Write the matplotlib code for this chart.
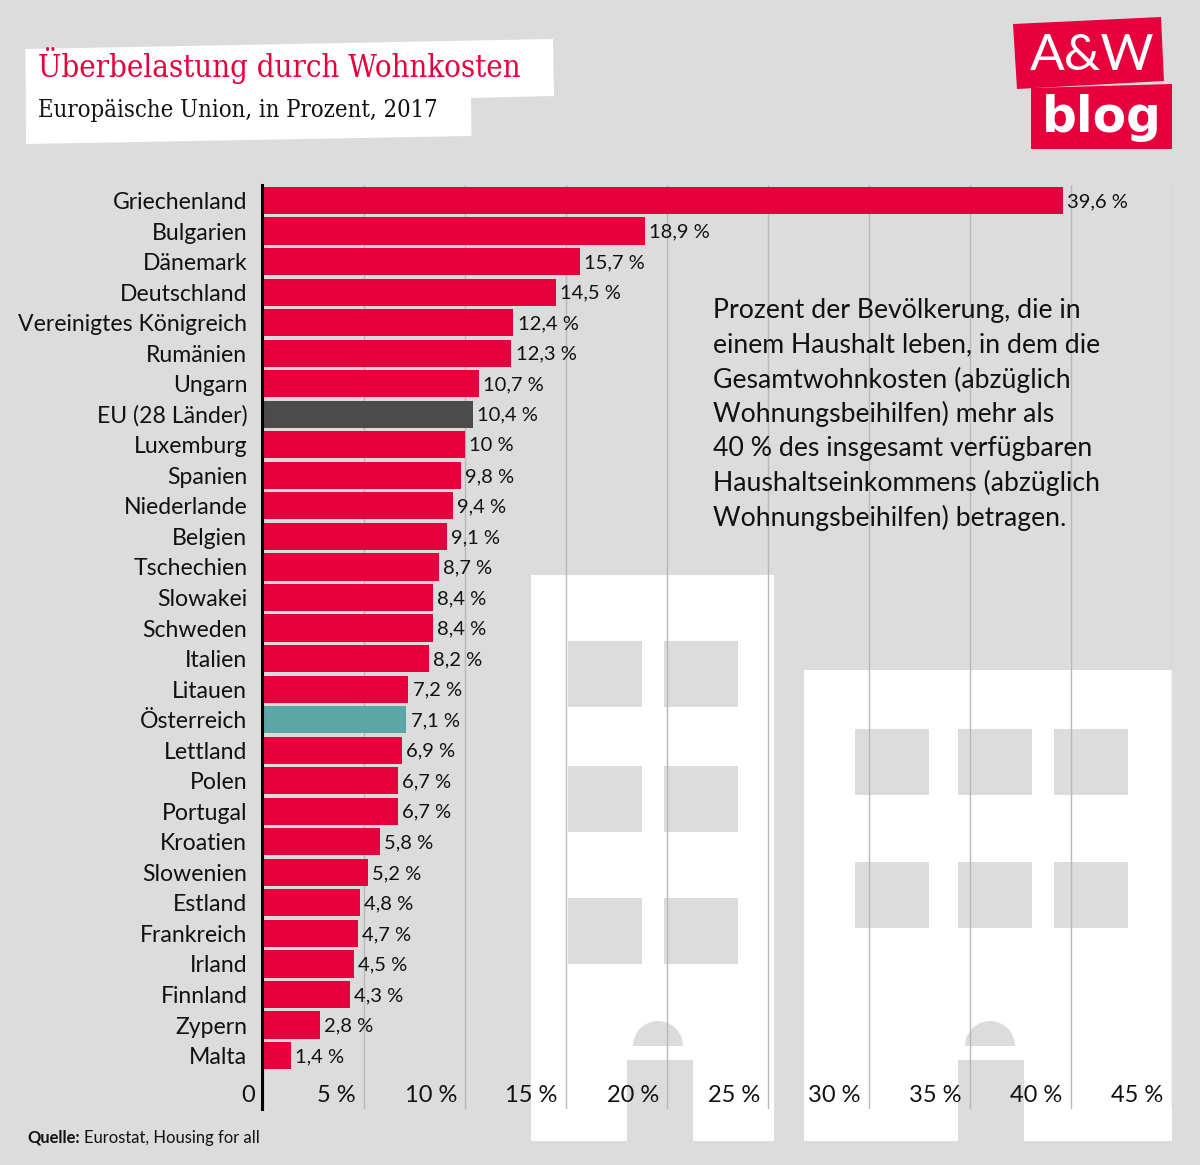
import matplotlib
import matplotlib.pyplot as plt
from matplotlib.patches import Polygon, Rectangle, Wedge
from matplotlib.transforms import ScaledTranslation

# Use Agg backend to prevent issues with missing display
matplotlib.use('Agg')

countries = ['Griechenland', 'Bulgarien', 'Dänemark', 'Deutschland', 'Vereinigtes Königreich',
             'Rumänien', 'Ungarn', 'EU (28 Länder)', 'Luxemburg', 'Spanien', 'Niederlande',
             'Belgien', 'Tschechien', 'Slowakei', 'Schweden', 'Italien', 'Litauen', 'Österreich',
             'Lettland', 'Polen', 'Portugal', 'Kroatien', 'Slowenien', 'Estland', 'Frankreich',
             'Irland', 'Finnland', 'Zypern', 'Malta']
values = [39.6, 18.9, 15.7, 14.5, 12.4, 12.3, 10.7, 10.4, 10, 9.8, 9.4, 9.1, 8.7, 8.4, 8.4,
          8.2, 7.2, 7.1, 6.9, 6.7, 6.7, 5.8, 5.2, 4.8, 4.7, 4.5, 4.3, 2.8, 1.4]
x_ticks = [0, 5, 10, 15, 20, 25, 30, 35, 40, 45]

note_lines = ['Prozent der Bevölkerung, die in',
              'einem Haushalt leben, in dem die',
              'Gesamtwohnkosten (abzüglich',
              'Wohnungsbeihilfen) mehr als',
              '40 % des insgesamt verfügbaren',
              'Haushaltseinkommens (abzüglich',
              'Wohnungsbeihilfen) betragen.']

BG = '#dcdcdc'
RED = '#e6003c'
DARK = '#4b4b4b'
TEAL = '#5ca6a5'
FONT = 'Lato'
SLAB = 'DejaVu Serif'

fig = plt.figure(figsize=(12, 11.65), dpi=100, facecolor=BG)

# Background layer in pixel coordinates for the decoration
bg = fig.add_axes([0, 0, 1, 1], zorder=0)
bg.set_xlim(0, 1200)
bg.set_ylim(1165, 0)
bg.axis('off')


def building(x0, x1, top, window_xs, window_ys, door_x, arch_x):
    bg.add_patch(Rectangle((x0, top), x1 - x0, 1141 - top, color='white', lw=0))
    for wy in window_ys:
        for wx in window_xs:
            bg.add_patch(Rectangle((wx, wy), 74, 66, color=BG, lw=0))
    bg.add_patch(Rectangle((door_x, 1060), 66, 81, color=BG, lw=0))
    bg.add_patch(Wedge((arch_x, 1046), 25, 180, 360, color=BG, lw=0))


building(531, 774, 575, [568, 664], [641, 766, 898], 627, 658)
building(804, 1172, 670, [855, 958, 1054], [729, 862], 958, 990)

# Title block
bg.add_patch(Polygon([(25.5, 49), (553, 39), (554, 96), (471, 98), (471.5, 136), (26, 144)],
                     color='white', lw=0))
bg.text(38, 66, 'Überbelastung durch Wohnkosten', color=RED, fontsize=22.35, family=SLAB,
        stretch='condensed', va='center')
bg.text(38, 111, 'Europäische Union, in Prozent, 2017', color='#111111', fontsize=17.15, family=SLAB,
        stretch='condensed', va='center')

# Logo
bg.add_patch(Polygon([(1013, 24), (1161, 17), (1164, 81), (1017, 89)], color=RED, lw=0))
bg.add_patch(Polygon([(1031, 88), (1172, 84), (1172, 149), (1031, 149)], color=RED, lw=0))
bg.text(1092, 56, 'A&W', color='white', fontsize=37, family='Lato', ha='center', va='center')
bg.text(1102, 118, 'blog', color='white', fontsize=35, family='DejaVu Sans', weight='bold',
        ha='center', va='center')

# Source
bg.text(27, 1137.5, 'Quelle:', color='#111111', fontsize=11.9, family=FONT, weight='bold', va='center')
bg.text(84, 1137.5, 'Eurostat, Housing for all', color='#111111', fontsize=11.9, family=FONT, va='center')

# Bar chart
ax = fig.add_axes([263 / 1200, 1 - 1109 / 1165, 909 / 1200, 924 / 1165], zorder=1)
ax.patch.set_alpha(0)

# Spine position resets the ticks, so it has to come before the tick styling
for side in ['top', 'right', 'bottom']:
    ax.spines[side].set_visible(False)
ax.spines['left'].set_color('black')
ax.spines['left'].set_linewidth(2.2)
ax.spines['left'].set_position(('outward', 0.8))

colors = [RED] * len(values)
colors[countries.index('EU (28 Länder)')] = DARK
colors[countries.index('Österreich')] = TEAL
positions = list(range(len(values)))
bars = ax.barh(positions, values, height=0.89, color=colors, zorder=2)
ax.set_xlim(0, 909 / 20.19)
ax.set_ylim(29.75, -0.5075)
ax.set_yticks(positions, countries)
value_labels = ax.bar_label(bars, labels=[f'{v:g} %'.replace('.', ',') for v in values], padding=3,
                            fontsize=14.5, family=FONT, color='#111111')
for t in value_labels:
    t.xyann = (t.xyann[0], t.xyann[1] - 0.8)

ax.set_xticks(x_ticks, ['0'] + [f'{t} %' for t in x_ticks[1:]])
ax.set_axisbelow(True)
ax.grid(axis='x', color='#b8b8b8', lw=1.0)
ax.tick_params(axis='y', length=0, pad=10.5, labelsize=16.6)
ax.tick_params(axis='x', length=0, pad=-17.5, labelsize=17)
for label in ax.get_yticklabels() + ax.get_xticklabels():
    label.set_family(FONT)
    label.set_color('#111111')
for label in ax.get_xticklabels():
    label.set_ha('right')
    label.set_transform(label.get_transform() + ScaledTranslation(-8 / 100, 0, fig.dpi_scale_trans))

# Note sits on top of the grid lines
for i, line in enumerate(note_lines):
    fig.text(713 / 1200, 1 - (310.5 + 34.55 * i) / 1165, line, color='#111111', fontsize=19.2,
             family=FONT, va='center', zorder=5)

fig.savefig('out.png', dpi=100, facecolor=BG)
plt.close(fig)
